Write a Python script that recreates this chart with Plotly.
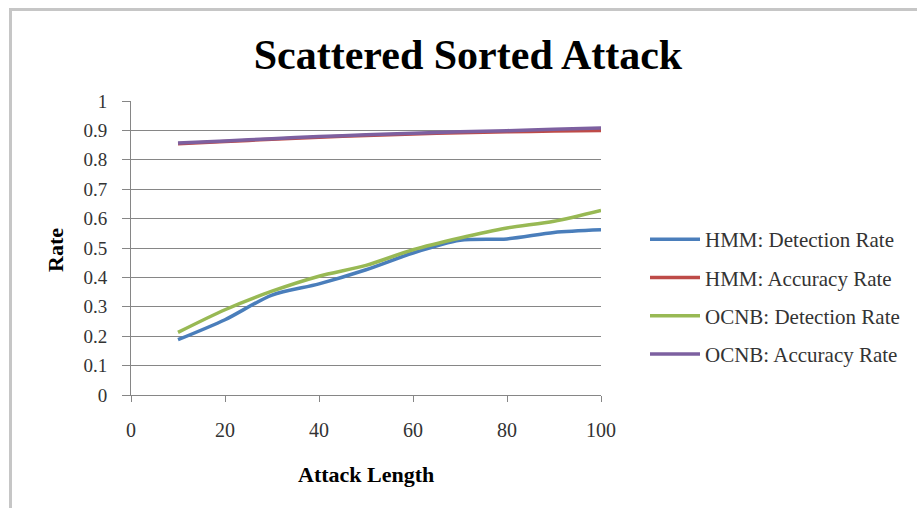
import plotly.graph_objects as go

attack_length = [10, 20, 30, 40, 50, 60, 70, 80, 90, 100]
hmm_detection = [0.188, 0.256, 0.340, 0.378, 0.426, 0.483, 0.526, 0.531, 0.553, 0.562]
hmm_accuracy = [0.855, 0.862, 0.870, 0.877, 0.883, 0.888, 0.892, 0.895, 0.898, 0.900]
ocnb_detection = [0.213, 0.290, 0.353, 0.404, 0.441, 0.494, 0.534, 0.568, 0.591, 0.628]
ocnb_accuracy = [0.857, 0.864, 0.872, 0.879, 0.885, 0.890, 0.895, 0.899, 0.904, 0.908]

series = [
    ("HMM: Detection Rate", hmm_detection, "#4A7EBB"),
    ("HMM: Accuracy Rate", hmm_accuracy, "#BE4B48"),
    ("OCNB: Detection Rate", ocnb_detection, "#98B954"),
    ("OCNB: Accuracy Rate", ocnb_accuracy, "#7D60A0"),
]

FONT = "Liberation Serif"
W, H = 917, 508
L, R, T, B = 131, 316, 101, 113

fig = go.Figure()
for i, (name, vals, color) in enumerate(series):
    fig.add_trace(go.Scatter(
        x=attack_length, y=vals, name=name, mode="lines",
        line=dict(color=color, width=3.5, shape="spline", smoothing=0.8),
        legendgroup=str(i),
    ))

pw = W - L - R
ph = H - T - B

def px_x(px):
    return (px - L) / pw

def px_y(py):
    return (H - B - py) / ph

fig.update_layout(
    width=W, height=H,
    margin=dict(l=L, r=R, t=T, b=B),
    paper_bgcolor="white", plot_bgcolor="white",
    font=dict(family=FONT, color="#333333", size=19),
    title=dict(text="<b>Scattered Sorted Attack</b>", x=px_x(468), xref="paper",
               xanchor="center", y=1 - 54 / H, yref="container", yanchor="middle",
               font=dict(family=FONT, size=42, color="#000000")),
    showlegend=True,
    legend=dict(x=px_x(645), y=px_y(219), xanchor="left", yanchor="top",
                font=dict(family=FONT, size=21, color="#333333"),
                tracegroupgap=8, itemwidth=50, bgcolor="rgba(0,0,0,0)"),
    xaxis=dict(range=[0, 100], dtick=20, tick0=0, showgrid=False, zeroline=False,
               showline=True, linecolor="#868686", linewidth=1,
               ticks="outside", ticklen=6, tickcolor="#868686",
               tickfont=dict(family=FONT, size=20, color="#333333"),
               ticklabelstandoff=11),
    yaxis=dict(range=[0, 1], dtick=0.1, tick0=0, showgrid=True, gridcolor="#868686",
               gridwidth=1, zeroline=False, showline=True, linecolor="#868686",
               linewidth=1, ticks="outside", ticklen=8, tickcolor="#868686",
               tickfont=dict(family=FONT, size=19, color="#333333"),
               ticklabelstandoff=11),
    annotations=[
        dict(text="<b>Rate</b>", x=px_x(55), y=px_y(250), xref="paper", yref="paper",
             showarrow=False, textangle=-90, font=dict(family=FONT, size=22, color="#000000"),
             xanchor="center", yanchor="middle"),
        dict(text="<b>Attack Length</b>", x=px_x(366), y=px_y(474), xref="paper", yref="paper",
             showarrow=False, font=dict(family=FONT, size=22, color="#000000"),
             xanchor="center", yanchor="middle"),
    ],
    shapes=[
        dict(type="line", xref="paper", yref="paper", x0=px_x(10.5), x1=px_x(930),
             y0=px_y(9.5), y1=px_y(9.5), line=dict(color="#c6c6c6", width=3)),
        dict(type="line", xref="paper", yref="paper", x0=px_x(10.5), x1=px_x(10.5),
             y0=px_y(8), y1=px_y(520), line=dict(color="#c6c6c6", width=3)),
    ],
)

fig.write_html("out.html")
